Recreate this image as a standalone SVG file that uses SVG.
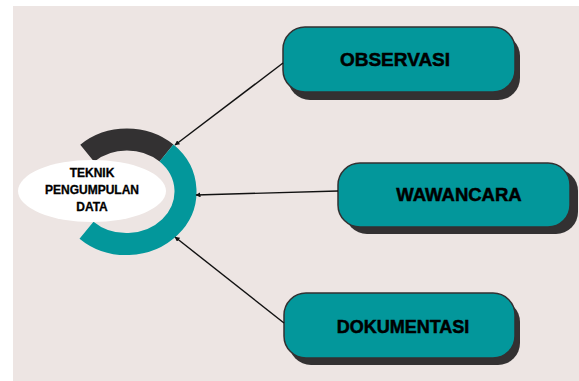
<svg xmlns="http://www.w3.org/2000/svg" width="579" height="381" viewBox="0 0 579 381">
<defs>
<style>
.box{fill:#03979b;stroke:#333132;stroke-width:1.5}
.shadow{fill:#333132}
.lbl{font-family:"Liberation Sans",Arial,sans-serif;font-weight:bold;font-size:18px;fill:#000;stroke:#000;stroke-width:0.5;text-anchor:middle}
.clbl{font-family:"Liberation Sans",Arial,sans-serif;font-weight:bold;font-size:12px;fill:#000;stroke:#000;stroke-width:0.3;text-anchor:middle}
.conn{stroke:#111;stroke-width:1.4;fill:none;marker-end:url(#ah)}
</style>
<marker id="ah" viewBox="0 0 10 10" refX="9" refY="5" markerWidth="5" markerHeight="5" markerUnits="userSpaceOnUse" orient="auto">
<path d="M0,0 L10,5 L0,10 z" fill="#111"/>
</marker>
</defs>
<rect width="579" height="381" fill="#ffffff"/>
<rect x="13" y="6" width="566" height="375" fill="#ede5e3"/>

<g id="center">
<path d="M87.2,153.2 A59,52.5 0 0 1 166.5,153" fill="none" stroke="#333132" stroke-width="22"/>
<path d="M166.5,153 A59,52.5 0 1 1 86.5,230.2" fill="none" stroke="#03979b" stroke-width="22"/>
<ellipse cx="92" cy="191" rx="74" ry="31" fill="#ffffff"/>
<text class="clbl" x="92" y="177">TEKNIK</text>
<text class="clbl" x="92" y="194">PENGUMPULAN</text>
<text class="clbl" x="92" y="211">DATA</text>
</g>

<g id="observasi">
<rect class="shadow" x="288" y="34" width="232" height="66" rx="22"/>
<rect class="box" x="283" y="27" width="232" height="65" rx="22"/>
<text class="lbl" x="395" y="66" style="font-size:19px">OBSERVASI</text>
</g>

<g id="wawancara">
<rect class="shadow" x="345" y="169" width="233" height="65" rx="22"/>
<rect class="box" x="338" y="163" width="232" height="64" rx="22"/>
<text class="lbl" x="459" y="201" style="font-size:18.5px">WAWANCARA</text>
</g>

<g id="dokumentasi">
<rect class="shadow" x="289" y="300" width="231" height="65" rx="22"/>
<rect class="box" x="284" y="293" width="231" height="65" rx="22"/>
<text class="lbl" x="403" y="333">DOKUMENTASI</text>
</g>

<g id="connectors">
<line class="conn" x1="283" y1="63" x2="175" y2="145"/>
<line class="conn" x1="338" y1="191" x2="196" y2="195"/>
<line class="conn" x1="284" y1="323" x2="175" y2="237"/>
</g>
</svg>
